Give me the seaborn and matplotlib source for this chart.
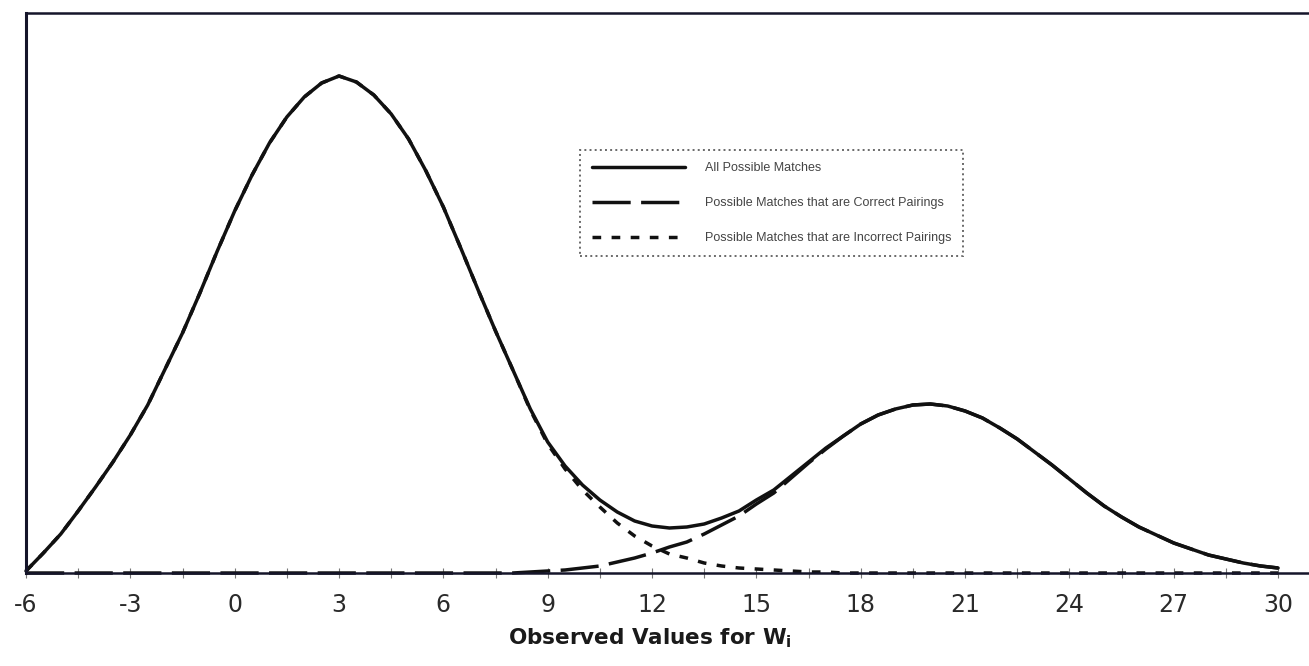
import numpy as np
import pandas as pd
import matplotlib
matplotlib.use("Agg")
import matplotlib.pyplot as plt
import seaborn as sns

# observed values of W_i (every half unit)
w_values = np.arange(-6, 30.5, 0.5)

# heights (arbitrary frequency units)
incorrect_pairs = [
    2, 20, 39, 62, 86, 111, 138, 168, 204, 240, 280, 322, 362, 398, 430,
    456, 476, 490, 497, 491, 478, 459, 434, 402, 366, 325, 283, 242, 203,
    163, 129, 104, 83, 66, 50, 37, 27, 19, 15, 10, 7, 5, 4, 3, 2, 1, 1,
    0, 0, 0, 0, 0, 0, 0, 0, 0, 0, 0, 0, 0, 0, 0, 0, 0, 0, 0, 0, 0, 0, 0, 0, 0, 0,
]
correct_pairs = [
    0, 0, 0, 0, 0, 0, 0, 0, 0, 0, 0, 0, 0, 0, 0, 0, 0, 0, 0, 0, 0, 0, 0, 0,
    0, 0, 0, 0, 0,
    1, 2, 3, 5, 7, 11, 15, 20, 26, 31, 39, 48, 57, 69, 80, 95, 110, 124,
    137, 149, 158, 164, 168, 169, 167, 162, 155, 145, 134, 121, 108, 94,
    80, 67, 56, 46, 38, 30, 24, 18, 14, 10, 7, 5,
]

tick_values = [-6, -3, 0, 3, 6, 9, 12, 15, 18, 21, 24, 27, 30]
legend_labels = [
    "All Possible Matches",
    "Possible Matches that are Correct Pairings",
    "Possible Matches that are Incorrect Pairings",
]

df = pd.DataFrame({
    "w": w_values,
    "incorrect": incorrect_pairs,
    "correct": correct_pairs,
})
df["all"] = df["incorrect"] + df["correct"]

sns.set_theme(style="white")
plt.rcParams["font.family"] = ["DejaVu Sans"]
plt.rcParams["axes.unicode_minus"] = False

line_color = "#111111"

fig = plt.figure(figsize=(13.09, 6.66), dpi=100)
ax = fig.add_axes([26 / 1309, 93 / 666, 1283 / 1309, 560 / 666])

sns.lineplot(data=df, x="w", y="all", ax=ax, color=line_color, linewidth=2.5,
             label=legend_labels[0], clip_on=False)
sns.lineplot(data=df, x="w", y="correct", ax=ax, color=line_color, linewidth=2.5,
             linestyle=(0, (11, 3)), label=legend_labels[1], clip_on=False)
sns.lineplot(data=df, x="w", y="incorrect", ax=ax, color=line_color, linewidth=2.5,
             linestyle=(0, (2.5, 3)), label=legend_labels[2], clip_on=False)

ax.set_xlim(-6, -6 + 1283 / 34.78)
ax.set_ylim(0, 560)
ax.set_xticks(tick_values)
ax.set_xticks(np.arange(-6, 31, 1.5), minor=True)
ax.set_yticks([])
ax.tick_params(axis="x", which="both", direction="inout", length=7, width=0.8,
               color="#777777", bottom=True)
ax.tick_params(axis="x", which="major", labelsize=17, labelcolor="#2a2a2a", pad=11)

for side in ["left", "top", "bottom"]:
    ax.spines[side].set_color("#15152a")
ax.spines["left"].set_linewidth(2.2)
ax.spines["bottom"].set_linewidth(1.8)
ax.spines["top"].set_linewidth(1.8)
ax.spines["right"].set_visible(False)

ax.set_xlabel(r"Observed Values for W$_\mathregular{i}$", fontsize=15.5,
              fontweight="bold", color="#1a1a1a")
ax.xaxis.set_label_coords(0.486, -0.095)
ax.set_ylabel("")

leg = ax.legend(loc="upper left", bbox_to_anchor=(0.432, 0.755), borderaxespad=0,
                frameon=True, fancybox=False, handlelength=7.4, handletextpad=1.6,
                labelspacing=1.85, borderpad=0.95,
                prop={"family": "Liberation Sans", "size": 9})
leg.get_frame().set_edgecolor("#444444")
leg.get_frame().set_linestyle(":")
leg.get_frame().set_linewidth(1.4)
for txt in leg.get_texts():
    txt.set_color("#444444")

fig.savefig("out.png", dpi=100)
